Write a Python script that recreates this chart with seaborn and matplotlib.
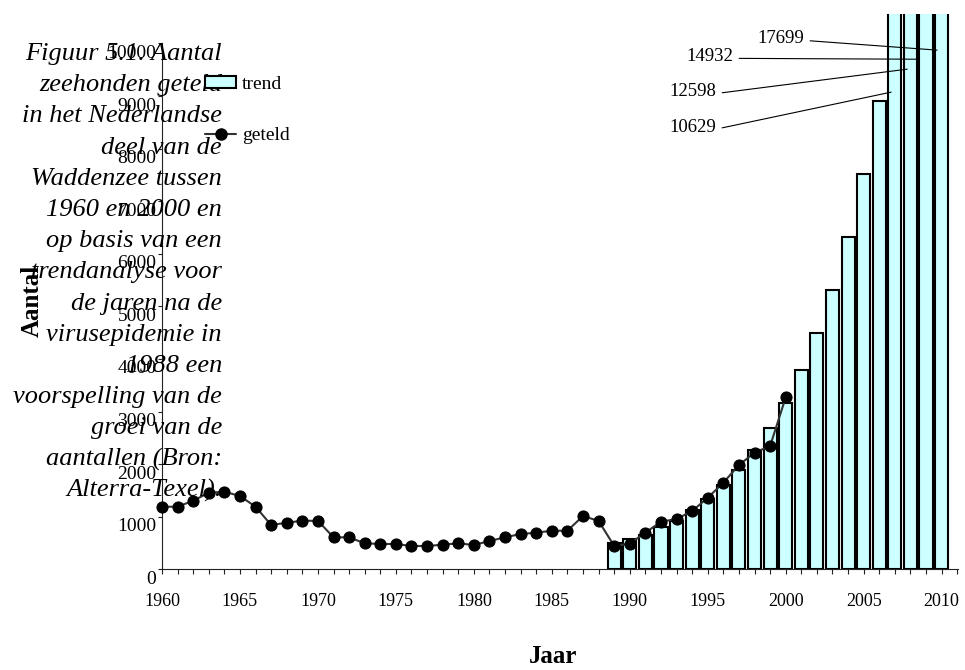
import matplotlib
matplotlib.use("Agg")
import matplotlib.pyplot as plt
import matplotlib.transforms as mtransforms
from matplotlib.patches import Patch
from matplotlib.lines import Line2D
import seaborn as sns
import pandas as pd

# ---------------- data ----------------
geteld_years = list(range(1960, 2001))
geteld_values = [1190, 1190, 1304, 1456, 1475, 1394, 1190, 842, 886, 924,
                 921, 608, 608, 494, 482, 481, 443, 443, 468, 494,
                 462, 538, 608, 671, 696, 734, 734, 1013, 920, 443,
                 488, 696, 905, 956, 1108, 1361, 1646, 1983, 2217, 2344,
                 3270]
trend_years = list(range(1989, 2011))
trend_values = [494, 576, 660, 810, 925, 1120, 1340, 1595, 1888, 2268,
                2680, 3170, 3789, 4487, 5310, 6312, 7515, 8909, 10629, 12598,
                14932, 17699]
x_tick_labels = ["1960", "1965", "1970", "1975", "1980", "1985",
                 "1990", "1995", "2000", "2005", "2010"]
y_tick_values = [0, 1000, 2000, 3000, 4000, 5000, 6000, 7000, 8000, 9000, 10000]
annotated_years = [2010, 2009, 2008, 2007]
caption_lines = ["Figuur 5.1. Aantal", "zeehonden geteld", "in het Nederlandse",
                 "deel van de", "Waddenzee tussen", "1960 en 2000 en",
                 "op basis van een", "trendanalyse voor", "de jaren na de",
                 "virusepidemie in", "1988 een", "voorspelling van de",
                 "groei van de", "aantallen (Bron:", "Alterra-Texel)."]
legend_labels = ["trend", "geteld"]

# ---------------- style ----------------
sns.set_style("ticks")
plt.rcParams["font.family"] = ["Liberation Serif", "DejaVu Serif"]
plt.rcParams["axes.linewidth"] = 0.8
for key in ["text.color", "axes.labelcolor", "xtick.color", "ytick.color",
            "axes.edgecolor"]:
    plt.rcParams[key] = "black"

W, H = 965, 670
fig = plt.figure(figsize=(W / 100, H / 100), dpi=100)
x0, x1, yb, yt = 162, 958, 569.3, 14
ax = fig.add_axes([x0 / W, (H - yb) / H, (x1 - x0) / W, (yb - yt) / H])

bar_face = "#CCFFFF"
trend_df = pd.DataFrame({"jaar": trend_years, "aantal": trend_values})
geteld_df = pd.DataFrame({"jaar": geteld_years, "aantal": geteld_values})

sns.barplot(data=trend_df, x="jaar", y="aantal", native_scale=True, width=0.84,
            color=bar_face, saturation=1, edgecolor="black", linewidth=1.5,
            errorbar=None, ax=ax)
sns.lineplot(data=geteld_df, x="jaar", y="aantal", color="#333333", linewidth=1.5,
             marker="o", markersize=8, markerfacecolor="black",
             markeredgecolor="black", ax=ax)
for ln in ax.lines:
    ln.set_clip_on(False)
    ln.set_zorder(5)

ax.set_xlim(1960, 2011.05)
ax.set_ylim(0, 10560)
sns.despine(ax=ax)
ax.spines["left"].set_bounds(0, 10000)
ax.spines["left"].set_color("#222222")
ax.spines["bottom"].set_color("#222222")

# x ticks: every year, label every 5
all_years = list(range(1960, 2012))
ax.set_xticks(all_years)
lab_map = {int(s): s for s in x_tick_labels}
ax.set_xticklabels([lab_map.get(y, "") for y in all_years], fontsize=13)
ax.tick_params(axis="x", length=3.5, width=0.8, direction="out", pad=13.5,
               color="#222222")
ax.set_yticks(y_tick_values)
ax.set_yticklabels([str(v) for v in y_tick_values], fontsize=14)
ax.tick_params(axis="y", length=3, width=0.8, direction="out", pad=1,
               color="#222222")
off = mtransforms.ScaledTranslation(0, -0.08, fig.dpi_scale_trans)
for lab in ax.get_yticklabels():
    lab.set_transform(lab.get_transform() + off)
ax.set_xlabel("")
ax.set_ylabel("")

# annotations for clipped bars (layout positions)
ann_layout = {
    2010: ((2009.71, 9873), (2001.18, 10091), (1, 0.4)),
    2009: ((2008.56, 9700), (1996.63, 9749), (1, 0.4)),
    2008: ((2007.79, 9511), (1995.54, 9080), (1, 0.4)),
    2007: ((2006.76, 9074), (1995.54, 8403), (1, 0.4)),
}
for yr in annotated_years:
    val = trend_values[trend_years.index(yr)]
    xy, xyt, rp = ann_layout[yr]
    ax.annotate(str(val), xy=xy, xytext=xyt, ha="right", va="center",
                fontsize=13.5, annotation_clip=False, zorder=6,
                arrowprops=dict(arrowstyle="-", color="black", lw=0.8,
                                shrinkA=2, shrinkB=0, relpos=rp))

# legend
handles = [Patch(facecolor=bar_face, edgecolor="black", linewidth=1.5),
           Line2D([], [], color="#333333", lw=1.5, marker="o", markersize=8,
                  markerfacecolor="black", markeredgecolor="black")]
fig.legend(handles, legend_labels, loc="upper left",
           bbox_to_anchor=(205 / W, 1 - 76 / H), frameon=False, fontsize=14,
           handlelength=1.6, handleheight=0.6, handletextpad=0.3,
           labelspacing=1.75, borderpad=0, borderaxespad=0)

# caption (right aligned block)
for i, line in enumerate(caption_lines):
    fig.text(222 / W, 1 - (60 + i * 31.2) / H, line, ha="right", va="baseline",
             fontsize=19, style="italic")

fig.text(32 / W, 1 - 301 / H, "Aantal", rotation=90, ha="center", va="center",
         fontsize=18, fontweight="bold")
fig.text(553 / W, 1 - 645 / H, "Jaar", ha="center", va="top",
         fontsize=18, fontweight="bold")

fig.savefig("out.png", dpi=100, facecolor="white")
